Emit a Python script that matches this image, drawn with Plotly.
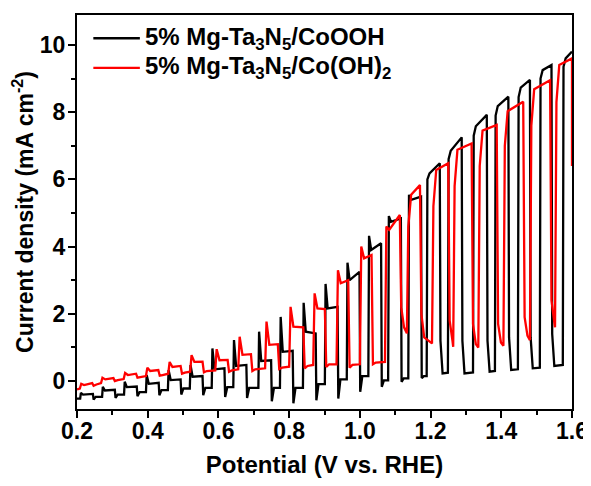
import plotly.graph_objects as go

# ---------------- data ----------------
# Black: 5% Mg-Ta3N5/CoOOH   (chopped-light LSV)
bk_start = (0.2, -0.52)
bk_on = [0.209, 0.271, 0.333, 0.395, 0.457, 0.519, 0.581, 0.642, 0.713, 0.774, 0.839, 0.901,
         0.963, 1.024, 1.080, 1.137, 1.189, 1.249, 1.320, 1.382, 1.447, 1.509, 1.574]
bk_off = [0.245, 0.307, 0.369, 0.431, 0.493, 0.555, 0.617, 0.679, 0.749, 0.810, 0.875, 0.937,
          0.999, 1.060, 1.116, 1.173, 1.226, 1.288, 1.359, 1.420, 1.481, 1.542]
bk_pre = [-0.52, -0.47, -0.40, -0.33, -0.27, -0.22, -0.20, -0.18, -0.20, -0.20, -0.20, -0.09,
          0.05, 0.15, 0.02, 0.08, 0.15, 0.25, 0.26, 0.30, 0.35, 0.40, 0.48]
bk_spike = [-0.35, -0.17, -0.02, 0.18, 0.33, 0.48, 0.97, 1.22, 1.47, 1.91, 2.33, 2.89,
            3.52, 4.32, 4.91, 5.54, 6.00, 6.60, 7.30, 7.90, 8.45, 9.00, 9.35]
bk_top_a = [-0.40, -0.28, -0.18, -0.08, 0.03, 0.13, 0.35, 0.45, 0.60, 0.87, 1.47, 2.16,
            3.00, 3.90, 4.74, 5.39, 6.18, 6.85, 7.58, 8.18, 8.73, 9.25, 9.60]
bk_top_b = [-0.38, -0.26, -0.16, -0.05, 0.05, 0.15, 0.38, 0.48, 0.62, 0.90, 1.42, 2.21,
            3.25, 4.10, 4.84, 5.49, 6.48, 7.25, 7.92, 8.46, 8.96, 9.40, 9.80]
bk_dip = [-0.55, -0.50, -0.45, -0.42, -0.40, -0.42, -0.47, -0.50, -0.60, -0.66, -0.57, -0.52,
          -0.32, -0.17, -0.02, 0.09, 1.20, 1.20, 1.20, 1.30, 1.30, 1.40]
bk_dark = [-0.47, -0.40, -0.33, -0.27, -0.22, -0.20, -0.18, -0.20, -0.20, -0.20, -0.09, 0.05,
           0.15, 0.02, 0.08, 0.15, 0.23, 0.23, 0.28, 0.33, 0.38, 0.45]
bk_end = (1.6, None)

# Red: 5% Mg-Ta3N5/Co(OH)2
rd_start = (0.2, -0.25)
rd_on = [0.208, 0.268, 0.332, 0.395, 0.458, 0.520, 0.591, 0.656, 0.732, 0.800, 0.868, 0.934,
         1.000, 1.071, 1.133, 1.204, 1.264, 1.335, 1.406, 1.481, 1.552]
rd_off = [0.243, 0.303, 0.367, 0.430, 0.493, 0.555, 0.626, 0.692, 0.768, 0.840, 0.901, 0.967,
          1.033, 1.113, 1.170, 1.250, 1.316, 1.387, 1.462, 1.538]
rd_pre = [-0.22, -0.06, 0.06, 0.15, 0.22, 0.28, 0.32, 0.35, 0.38, 0.43, 0.48, 0.50,
          0.50, 0.57, 1.42, 1.12, 1.02, 1.00, 1.05, 1.22, 1.60]
rd_spike = [-0.08, 0.10, 0.24, 0.40, 0.57, 0.77, 0.95, 1.32, 1.77, 2.21, 2.61, 3.30,
            4.00, 4.60, 4.60, 5.20, 5.80, 6.40, 7.00, 7.60, 8.30]
rd_top_a = [-0.12, 0.05, 0.18, 0.30, 0.42, 0.57, 0.62, 0.78, 1.08, 1.62, 2.16, 2.91,
            3.65, 4.50, 5.54, 6.28, 6.88, 7.45, 8.03, 8.68, 9.40]
rd_top_b = [-0.06, 0.09, 0.22, 0.33, 0.45, 0.58, 0.63, 0.80, 1.10, 1.60, 2.14, 3.00,
            3.75, 4.94, 5.83, 6.48, 7.07, 7.62, 8.31, 8.95, 9.60]
rd_dip = [-0.14, 0.00, 0.10, 0.16, 0.22, 0.26, 0.28, 0.30, 0.36, 0.38, 0.42, 0.40,
          0.50, 2.20, 2.00, 1.80, 1.70, 1.70, 1.90, 2.40]
rd_dark = [-0.10, 0.03, 0.12, 0.18, 0.25, 0.30, 0.32, 0.35, 0.40, 0.45, 0.50, 0.48,
           0.55, 1.60, 1.30, 1.20, 1.10, 1.15, 1.35, 1.75]
rd_end = (1.6, 6.40)

x_ticks = [0.2, 0.4, 0.6, 0.8, 1.0, 1.2, 1.4, 1.6]
y_ticks = [0, 2, 4, 6, 8, 10]

names = ["5% Mg-Ta<sub>3</sub>N<sub>5</sub>/CoOOH",
         "5% Mg-Ta<sub>3</sub>N<sub>5</sub>/Co(OH)<sub>2</sub>"]
colors = ["#000000", "#ff0000"]


def chopped(start, on, off, pre, spike, top_a, top_b, dip, dark, end, da, db):
    xs, ys = [start[0]], [start[1]]
    for k in range(len(on)):
        xs += [on[k], on[k] + da, on[k] + db]
        ys += [pre[k], spike[k], top_a[k]]
        if k < len(off):
            xs += [off[k], off[k] + da, off[k] + db]
            ys += [top_b[k], dip[k], dark[k]]
        else:
            xs.append(end[0])
            ys.append(top_b[k])
            if end[1] is not None:
                xs.append(end[0])
                ys.append(end[1])
    return xs, ys


bx, by = chopped(bk_start, bk_on, bk_off, bk_pre, bk_spike, bk_top_a, bk_top_b,
                 bk_dip, bk_dark, bk_end, 0.002, 0.008)
rx, ry = chopped(rd_start, rd_on, rd_off, rd_pre, rd_spike, rd_top_a, rd_top_b,
                 rd_dip, rd_dark, rd_end, 0.004, 0.012)

FONT = "Liberation Sans, Arial, sans-serif"

fig = go.Figure()
fig.add_trace(go.Scatter(x=bx, y=by, mode="lines", name=names[0],
                         line=dict(color=colors[0], width=2.3), showlegend=False))
fig.add_trace(go.Scatter(x=rx, y=ry, mode="lines", name=names[1],
                         line=dict(color=colors[1], width=2.3), showlegend=False))

# legend drawn as sample lines + text
leg_y = [0.941, 0.866]
for i in range(2):
    fig.add_shape(type="line", xref="paper", yref="paper", x0=0.033, x1=0.127,
                  y0=leg_y[i], y1=leg_y[i], line=dict(color=colors[i], width=2.3))
    fig.add_annotation(xref="paper", yref="paper", x=0.133, y=leg_y[i],
                       xanchor="left", yanchor="middle", text=names[i], showarrow=False,
                       font=dict(family=FONT, size=24, color="#000", weight="bold"))

axis_common = dict(showline=True, linewidth=2, linecolor="#000", mirror=True,
                   ticks="outside", tickwidth=2, tickcolor="#000", ticklen=7,
                   showgrid=False, zeroline=False, automargin=False,
                   tickfont=dict(family=FONT, size=23, color="#000", weight="bold"))

# the page body adds an 8 px offset; sizes/margins compensate for it
fig.update_layout(
    width=583, height=478,
    margin=dict(l=69, r=19, t=7, b=77),
    paper_bgcolor="#fff", plot_bgcolor="#fff",
    xaxis=dict(range=[0.2, 1.6], tickvals=x_ticks, tickformat=".1f",
               ticklabelstandoff=-7,
               minor=dict(dtick=0.1, ticklen=4, tickwidth=2, tickcolor="#000", ticks="outside"),
               title=dict(text="Potential (V vs. RHE)", standoff=14,
                          font=dict(family=FONT, size=24, color="#000", weight="bold")),
               **axis_common),
    yaxis=dict(range=[-0.83, 10.89], tickvals=y_ticks,
               ticklabelstandoff=-2,
               minor=dict(dtick=1, ticklen=4, tickwidth=2, tickcolor="#000", ticks="outside"),
               title=dict(text="Current density (mA cm<sup>-2</sup>)", standoff=1,
                          font=dict(family=FONT, size=23, color="#000", weight="bold")),
               **axis_common),
)

fig.write_html("out.html")
